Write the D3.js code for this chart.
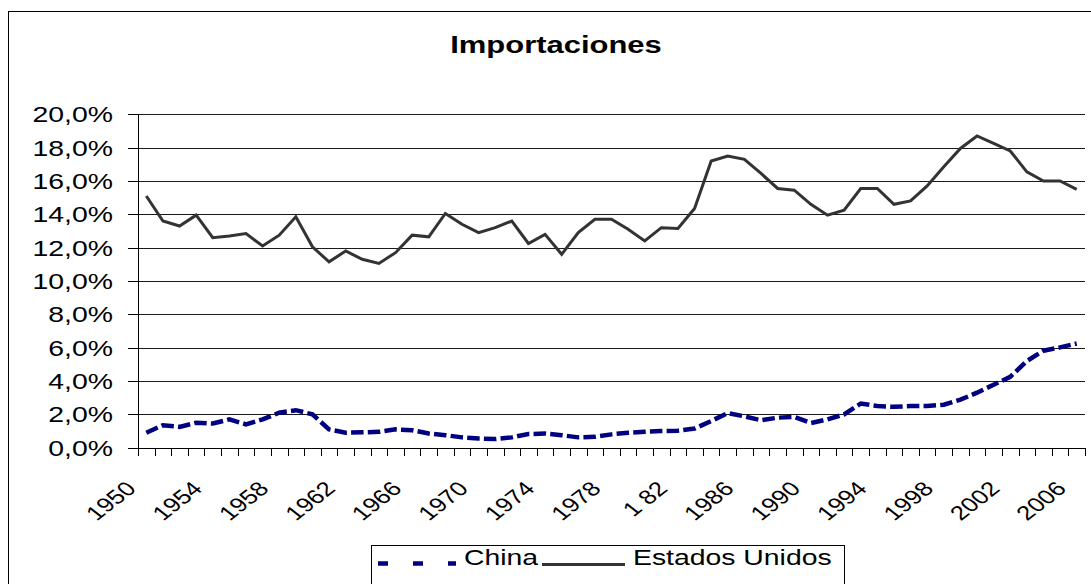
<!DOCTYPE html>
<html><head><meta charset="utf-8">
<script src="https://cdn.jsdelivr.net/npm/d3@7"></script>
<style>html,body{margin:0;padding:0;background:#fff;overflow:hidden}text{font-family:"Liberation Sans",Arial,sans-serif}</style>
</head><body><svg id="c" width="1091" height="584"></svg>
<script>
const years = [1950,1951,1952,1953,1954,1955,1956,1957,1958,1959,1960,1961,1962,1963,1964,1965,1966,1967,1968,1969,1970,1971,1972,1973,1974,1975,1976,1977,1978,1979,1980,1981,1982,1983,1984,1985,1986,1987,1988,1989,1990,1991,1992,1993,1994,1995,1996,1997,1998,1999,2000,2001,2002,2003,2004,2005,2006];
const estadosUnidos = [15.1,13.6,13.3,13.95,12.6,12.7,12.85,12.1,12.75,13.85,12.05,11.15,11.8,11.3,11.05,11.7,12.75,12.65,14.05,13.4,12.9,13.2,13.6,12.25,12.8,11.6,12.9,13.7,13.7,13.1,12.4,13.2,13.15,14.35,17.2,17.5,17.3,16.45,15.55,15.45,14.6,13.95,14.25,15.55,15.55,14.6,14.8,15.7,16.85,17.95,18.7,18.25,17.8,16.55,16.0,16.0,15.5];
const china = [0.9,1.35,1.25,1.5,1.45,1.7,1.4,1.7,2.1,2.25,2.0,1.1,0.9,0.92,0.95,1.1,1.05,0.85,0.75,0.62,0.55,0.52,0.62,0.82,0.85,0.75,0.62,0.65,0.8,0.9,0.95,1.0,1.02,1.15,1.6,2.08,1.88,1.65,1.8,1.85,1.48,1.7,2.0,2.65,2.5,2.45,2.5,2.5,2.58,2.88,3.3,3.78,4.25,5.2,5.82,6.02,6.25];
const labelYears = [1950,1954,1958,1962,1966,1970,1974,1978,1982,1986,1990,1994,1998,2002,2006];
const labelTexts = ["1950","1954","1958","1962","1966","1970","1974","1978","1 82","1986","1990","1994","1998","2002","2006"];
const yTicks = [0,2,4,6,8,10,12,14,16,18,20];
const title = "Importaciones";
const seriesNames = ["China","Estados Unidos"];

const SX = 1.29; // horizontal text stretch
const svg = d3.select("#c");
const L = 138, R = 1085, T = 114.3, B = 447.7;
const x = d3.scaleBand().domain(years).range([L, R]).padding(0);
const y = d3.scaleLinear().domain([0, 20]).range([B, T]);
const loc = d3.formatLocale({decimal: ",", thousands: ".", grouping: [3], currency: ["", ""]});
const fmt = v => loc.format(".1f")(v) + "%";

// outer border
svg.append("rect").attr("x", 8.5).attr("y", 11.5).attr("width", 1100).attr("height", 600)
  .attr("fill", "none").attr("stroke", "#000").attr("stroke-width", 1);

// title
svg.append("text").attr("transform", `translate(556,53) scale(${SX},1)`)
  .attr("text-anchor", "middle").attr("font-size", 24).attr("font-weight", "bold").text(title);

// gridlines
svg.append("g").selectAll("line").data(yTicks).join("line")
  .attr("x1", L).attr("x2", R).attr("y1", d => Math.round(y(d)) + 0.5).attr("y2", d => Math.round(y(d)) + 0.5)
  .attr("stroke", "#1a1a1a").attr("stroke-width", 1);

// y axis
const gy = svg.append("g");
gy.append("line").attr("x1", L + 0.5).attr("x2", L + 0.5).attr("y1", Math.round(T)).attr("y2", Math.round(B) + 1).attr("stroke", "#000");
gy.selectAll("line.t").data(yTicks).join("line").attr("class", "t")
  .attr("x1", L - 10).attr("x2", L).attr("y1", d => Math.round(y(d)) + 0.5).attr("y2", d => Math.round(y(d)) + 0.5).attr("stroke", "#000");
gy.selectAll("text").data(yTicks).join("text")
  .attr("transform", d => `translate(113,${y(d) + 8}) scale(${SX},1)`)
  .attr("text-anchor", "end").attr("font-size", 22).attr("fill", "#000").text(fmt);

// x axis
const gx = svg.append("g");
gx.append("line").attr("x1", L).attr("x2", R).attr("y1", Math.round(B) + 0.5).attr("y2", Math.round(B) + 0.5).attr("stroke", "#000");
const bounds = years.map(d => x(d)).concat([x(years[years.length - 1]) + x.bandwidth()]);
gx.selectAll("line.t").data(bounds).join("line").attr("class", "t")
  .attr("x1", d => Math.round(d) + 0.5).attr("x2", d => Math.round(d) + 0.5).attr("y1", Math.round(B)).attr("y2", Math.round(B) + 8).attr("stroke", "#000");
gx.selectAll("text").data(labelYears).join("text")
  .attr("transform", d => `translate(${x(d) + x.bandwidth() / 2 - 9},490) scale(${SX},1) rotate(-45)`)
  .attr("text-anchor", "end").attr("font-size", 20).attr("fill", "#000").text((d, i) => labelTexts[i]);

// lines
const line = d3.line().x((d, i) => x(years[i]) + x.bandwidth() / 2).y(d => y(d));
svg.append("path").datum(estadosUnidos).attr("d", line).attr("fill", "none")
  .attr("stroke", "#333333").attr("stroke-width", 3).attr("stroke-linejoin", "miter");
svg.append("path").datum(china).attr("d", line).attr("fill", "none")
  .attr("stroke", "#000080").attr("stroke-width", 4.5).attr("stroke-dasharray", "12.5,4.2");

// legend
const lg = svg.append("g");
lg.append("rect").attr("x", 371.5).attr("y", 545.5).attr("width", 473).attr("height", 60)
  .attr("fill", "#fff").attr("stroke", "#000");
lg.append("line").attr("x1", 378).attr("x2", 456).attr("y1", 563.5).attr("y2", 563.5)
  .attr("stroke", "#000080").attr("stroke-width", 4.5).attr("stroke-dasharray", "10,25");
lg.append("text").attr("transform", `translate(464,565) scale(${SX},1)`).attr("font-size", 22).text(seriesNames[0]);
lg.append("line").attr("x1", 542).attr("x2", 625).attr("y1", 564.5).attr("y2", 564.5)
  .attr("stroke", "#333333").attr("stroke-width", 3);
lg.append("text").attr("transform", `translate(633,565) scale(${SX},1)`).attr("font-size", 22).text(seriesNames[1]);
</script></body></html>
